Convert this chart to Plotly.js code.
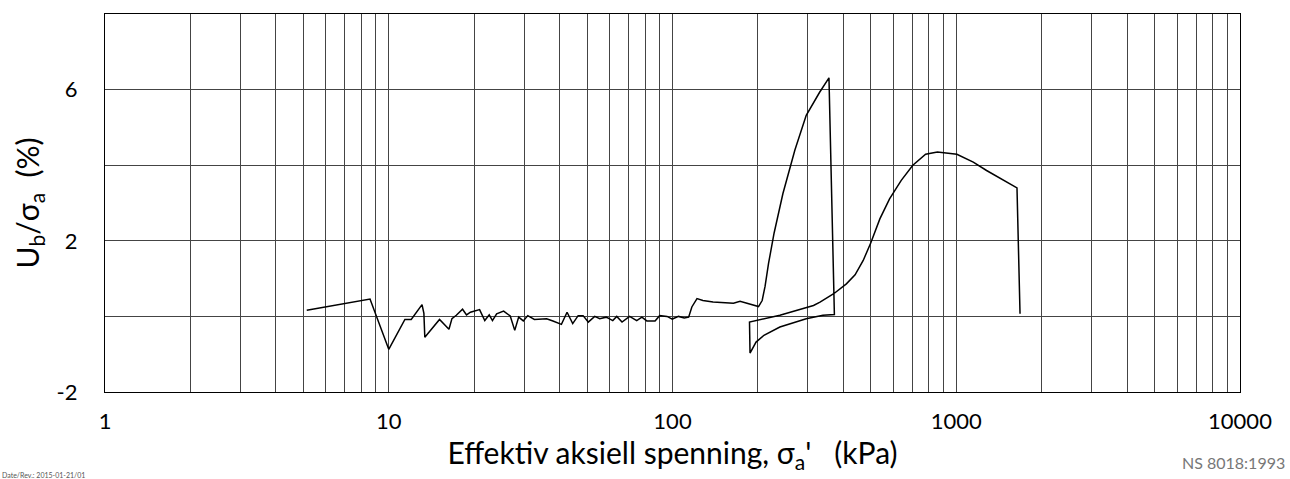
<!DOCTYPE html>
<html>
<head>
<meta charset="utf-8">
<script src="https://cdn.plot.ly/plotly-3.0.1.min.js"></script>
<style>html,body{margin:0;padding:0;background:#fff;}#chart{width:1290px;height:479px;}</style>
</head>
<body>
<div id="chart"></div>
<script>
// Effective axial stress (kPa)
const stress = [5.14, 8.59, 10.0, 11.4, 12.0, 13.1, 13.3, 13.4, 15.1, 16.3, 16.7, 17.3, 18.2, 18.8, 19.4, 20.9, 21.8, 22.6, 23.2, 24.0, 25.4, 26.8, 27.8, 28.7, 29.8, 30.9, 32.6, 36.0, 37.9, 40.6, 42.5, 44.5, 46.5, 48.4, 50.5, 53.2, 55.4, 58.4, 61.6, 63.6, 66.4, 70.6, 74.8, 78.0, 81.2, 86.8, 90.1, 95.7, 99.8, 105, 110, 114, 117, 122, 128, 139, 164, 173, 201,
  207, 212, 218, 228, 245, 270, 296, 330, 356,
  372, 339, 296, 239, 210, 197, 187.6,
  186.8, 239, 314, 331, 370, 410, 440, 470, 500, 538, 582, 640, 703, 780, 858, 1005, 1148, 1279, 1637, 1678];
// Pore pressure ratio Ub / sigma_a (%)
const ratio = [0.16, 0.46, -0.87, -0.08, -0.08, 0.31, 0.08, -0.55, -0.08, -0.34, -0.06, 0.03, 0.19, 0.04, 0.11, 0.18, -0.11, 0.04, -0.11, 0.07, 0.14, 0.01, -0.37, -0.02, -0.12, 0.02, -0.08, -0.06, -0.12, -0.21, 0.11, -0.19, 0.02, 0.02, -0.15, 0.0, -0.06, -0.02, -0.11, 0.0, -0.15, 0.0, -0.11, -0.02, -0.12, -0.12, 0.02, 0.0, -0.07, 0.0, -0.04, -0.02, 0.25, 0.47, 0.42, 0.38, 0.35, 0.40, 0.26,
  0.42, 0.80, 1.40, 2.20, 3.25, 4.40, 5.32, 5.93, 6.31,
  0.05, 0.03, -0.06, -0.28, -0.50, -0.68, -0.97,
  -0.15, 0.03, 0.29, 0.38, 0.60, 0.86, 1.10, 1.48, 1.95, 2.58, 3.11, 3.60, 4.00, 4.29, 4.35, 4.29, 4.08, 3.86, 3.40, 0.07];

const xTickVals = [1, 10, 100, 1000, 10000];
const xTickText = ['1', '10', '100', '1000', '10000'];
const xMinorVals = [2,3,4,5,6,7,8,9,20,30,40,50,60,70,80,90,200,300,400,500,600,700,800,900,2000,3000,4000,5000,6000,7000,8000,9000];
const yTickVals = [-2, 2, 6];
const yTickText = ['-2', '2', '6'];
const yMinorVals = [0, 4, 8];

const font = 'Lato, "Open Sans", sans-serif';
const gridColor = '#444';

Plotly.newPlot('chart', [{
  x: stress, y: ratio, type: 'scatter', mode: 'lines',
  line: {color: '#000', width: 1.5, shape: 'linear'}, hoverinfo: 'skip'
}], {
  width: 1290, height: 479,
  margin: {l: 105, r: 50, t: 14, b: 87},
  paper_bgcolor: '#fff', plot_bgcolor: '#fff',
  showlegend: false,
  font: {family: font, color: '#000', size: 22},
  xaxis: {
    type: 'log', range: [0, 4],
    tickmode: 'array', tickvals: xTickVals, ticktext: xTickText,
    ticks: '', ticklabelstandoff: 9,
    showgrid: true, gridcolor: gridColor, gridwidth: 1,
    minor: {tickmode: 'array', tickvals: xMinorVals, showgrid: true, gridcolor: gridColor, gridwidth: 1, ticks: ''},
    showline: true, mirror: true, linecolor: '#000', linewidth: 1.2,
    zeroline: false,
    tickfont: {size: 22, family: font},
    title: {text: 'Effektiv aksiell spenning, σ<sub>a</sub>\'\u00a0\u00a0\u00a0(kPa)', font: {size: 30, family: font}, standoff: 6}
  },
  yaxis: {
    range: [-2, 8],
    tickmode: 'array', tickvals: yTickVals, ticktext: yTickText,
    ticks: '', ticklabelstandoff: 22,
    showgrid: true, gridcolor: gridColor, gridwidth: 1,
    minor: {tickmode: 'array', tickvals: yMinorVals, showgrid: true, gridcolor: gridColor, gridwidth: 1, ticks: ''},
    showline: true, mirror: true, linecolor: '#000', linewidth: 1.2,
    zeroline: false,
    tickfont: {size: 22, family: font},
    title: {text: 'U<sub>b</sub>/σ<sub>a</sub>\u00a0\u00a0(%)', font: {size: 30, family: font}, standoff: 8}
  },
  annotations: [
    {text: 'Date/Rev.: 2015-01-21/01', xref: 'paper', yref: 'paper', x: -105/1135, y: -83/378, xanchor: 'left', yanchor: 'middle', showarrow: false, font: {size: 7, color: '#555', family: font}},
    {text: 'NS 8018:1993', xref: 'paper', yref: 'paper', x: (1180-105)/1135, y: -(462-392)/378, xanchor: 'left', yanchor: 'middle', showarrow: false, font: {size: 16, color: '#777', family: font}}
  ]
}, {staticPlot: true});
</script>
</body>
</html>
